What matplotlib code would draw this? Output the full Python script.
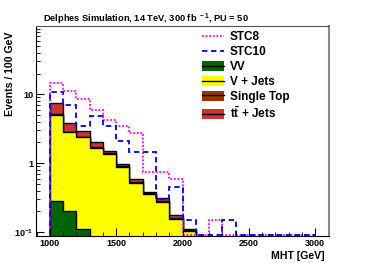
import numpy as np
import matplotlib
matplotlib.use("Agg")
import matplotlib.pyplot as plt
from matplotlib.patches import Patch
from matplotlib.lines import Line2D
from matplotlib.ticker import FixedLocator, MultipleLocator, NullFormatter

plt.rcParams['font.family'] = ['Liberation Sans', 'DejaVu Sans']
plt.rcParams['font.weight'] = 'bold'
plt.rcParams['mathtext.fontset'] = 'custom'
plt.rcParams['mathtext.rm'] = 'Liberation Sans:bold'
plt.rcParams['mathtext.bf'] = 'Liberation Sans:bold'

# MHT bins, 100 GeV wide
edges = np.arange(1000, 3001, 100)

# stacked backgrounds (events / 100 GeV)
vv = [0.284, 0.206, 0.112, 0, 0, 0, 0, 0, 0, 0, 0, 0, 0, 0, 0, 0, 0, 0, 0, 0]
vjets = [4.72, 2.60, 2.27, 1.65, 1.35, 0.875, 0.513, 0.359, 0.278, 0.154, 0.105,
         0, 0, 0, 0, 0, 0, 0, 0, 0]
singletop = [0.15, 0.08, 0.06, 0.05, 0.04, 0.025, 0.015, 0.01, 0.008, 0.005, 0.003,
             0, 0, 0, 0, 0, 0, 0, 0, 0]
ttjets = [2.25, 0.98, 0.53, 0.36, 0.13, 0.077, 0.058, 0.015, 0.025, 0.017, 0.002,
          0, 0, 0, 0, 0, 0, 0, 0, 0]

# signals
stc8 = [14.7, 11.3, 8.55, 5.92, 4.2, 3.5, 2.77, 0.75, 0.75, 0.6, 0,
        0, 0.15, 0, 0, 0, 0, 0, 0, 0]
stc10 = [10.9, 7.0, 3.47, 4.9, 3.47, 2.13, 1.47, 1.47, 0.3, 0.45, 0.15,
         0, 0, 0.15, 0, 0, 0, 0, 0, 0]

ymin, ymax = 0.088, 98

fig = plt.figure(figsize=(3.66, 2.63), dpi=100)
ax = fig.add_axes([36/366, 27/263, 293/366, 210/263])

# cumulative stack, drawn from the top down
c1 = np.array(vv)
c2 = c1 + np.array(vjets)
c3 = c2 + np.array(singletop)
c4 = c3 + np.array(ttjets)
col_vv = '#006400'
col_vj = '#ffff00'
col_st = '#993300'
col_tt = '#cc3333'
for cum, col in [(c4, col_tt), (c3, col_st), (c2, col_vj), (c1, col_vv)]:
    ax.stairs(cum, edges, baseline=1e-4, fill=True, facecolor=col,
              edgecolor='black', linewidth=1.0)

# empty bins sit on the frame bottom like in ROOT
floor = ymin * 1.03
ax.stairs(np.maximum(stc8, floor), edges, baseline=floor, color='#ff00ff',
          linestyle=(0, (1, 1)), linewidth=1.3)
ax.stairs(np.maximum(stc10, floor), edges, baseline=floor, color='#0000ff',
          linestyle=(0, (3, 2)), linewidth=1.3)

ax.set_yscale('log')
ax.set_xlim(895, 3105)
ax.set_ylim(ymin, ymax)

ax.yaxis.set_major_locator(FixedLocator([0.1, 1, 10]))
ax.set_yticklabels(['10$^{-1}$', '1', '10'], fontsize=6.5)
ax.yaxis.set_minor_locator(FixedLocator(
    [m * d for d in (0.1, 1, 10) for m in range(2, 10)]))
ax.yaxis.set_minor_formatter(NullFormatter())
ax.xaxis.set_minor_locator(MultipleLocator(100))
ax.set_xticks([1000, 1500, 2000, 2500, 3000])
ax.set_xticklabels(['1000', '1500', '2000', '2500', '3000'], fontsize=6.5)
ax.tick_params(which='major', direction='in', length=6, width=0.8, pad=2)
ax.tick_params(which='minor', direction='in', length=3, width=0.6)

ax.spines['top'].set_color('#555555')
ax.spines['right'].set_color('#888888')
ax.spines['right'].set_linewidth(1.5)

fig.text(325/366, 1 - 256/263, 'MHT [GeV]', ha='right', va='center', fontsize=7.6)
fig.text(10/366, 1 - 74/263, 'Events / 100 GeV', rotation=90, ha='center',
         va='center', fontsize=7.6)
fig.text(43/366, 1 - 19/263, r'Delphes Simulation, 14 TeV, 300 fb$^{\ -1}$, PU = 50',
         ha='left', va='center', fontsize=6.7)

handles = [
    Line2D([], [], color='#ff00ff', linestyle=(0, (1, 1)), linewidth=1.3),
    Line2D([], [], color='#0000ff', linestyle=(0, (3, 2)), linewidth=1.3),
    (Patch(facecolor=col_vv, edgecolor='none'), Line2D([], [], color='black', lw=1)),
    (Patch(facecolor=col_vj, edgecolor='none'), Line2D([], [], color='black', lw=1)),
    (Patch(facecolor=col_st, edgecolor='none'), Line2D([], [], color='black', lw=1)),
    (Patch(facecolor=col_tt, edgecolor='none'), Line2D([], [], color='black', lw=1)),
]
labels = ['STC8', 'STC10', 'VV', 'V + Jets', 'Single Top', r'$\mathbf{t\bar{t}}$ + Jets']
fig.legend(handles, labels, loc='upper left', bbox_to_anchor=(202/366, 1 - 31.5/263),
           frameon=False, fontsize=8.5, handlelength=1.9, handleheight=0.9,
           handletextpad=0.45, labelspacing=0.24, borderpad=0, borderaxespad=0)

fig.savefig('out.png', dpi=100)
